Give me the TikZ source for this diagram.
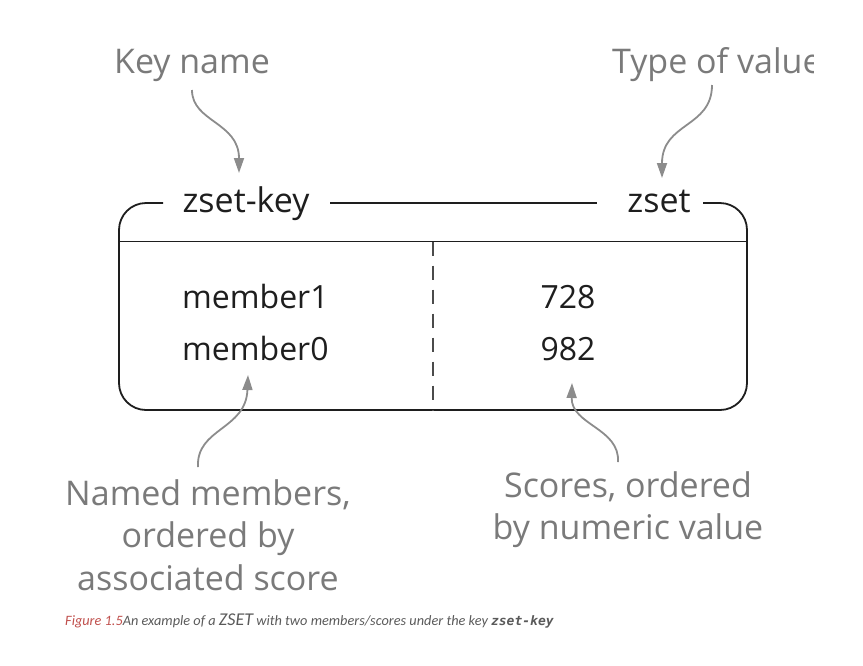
\documentclass[tikz,border=0pt]{standalone}
\usepackage{fontspec}
\setmainfont{Open Sans}
\newfontfamily\capfont{Carlito}
\newfontfamily\capmono{DejaVu Sans Mono}
\usetikzlibrary{arrows.meta}
\definecolor{inkdark}{HTML}{1E1E1E}
\definecolor{labelgray}{HTML}{7A7A7A}
\definecolor{arrowgray}{HTML}{8C8C8C}
\definecolor{figred}{HTML}{C0504D}
\definecolor{capgray}{HTML}{5A5A5A}
\tikzset{
  boxline/.style={draw=inkdark, line width=1.8pt},
  maintext/.style={text=inkdark, font=\fontsize{32}{40}\selectfont, inner sep=0pt, anchor=base},
  headtext/.style={text=inkdark, font=\fontsize{34}{40}\selectfont, inner sep=0pt, anchor=base},
  graylabel/.style={text=labelgray, font=\fontsize{34}{42.5}\selectfont, inner sep=0pt, align=center},
  callout/.style={draw=arrowgray, line width=1.8pt, -{Triangle[length=15pt,width=10pt]}},
}
\begin{document}
\begin{tikzpicture}[x=1pt,y=-1pt]
\useasboundingbox (0,0) rectangle (863,665);
% box
\draw[boxline, rounded corners=27pt] (163,203) -- (119,203) -- (119,410) -- (747,410) -- (747,203) -- (703,203);
\draw[boxline] (330,203) -- (597,203);
\draw[boxline] (119,241.5) -- (747,241.5);
\draw[draw=inkdark!80, line width=1.5pt, dash pattern=on 14pt off 10pt] (433,241.5) -- (433,410);
% header texts
\node[headtext] (zkey) at (246,212) {zset-key};
\node[headtext] (ztype) at (659,212) {zset};
% body
\node[maintext, anchor=base west] (m1) at (182,308) {member1};
\node[maintext, anchor=base west] (m0) at (182,360) {member0};
\node[maintext] (s1) at (568,308) {728};
\node[maintext] (s0) at (568,360) {982};
% top labels
\node[graylabel, anchor=base] (keyname) at (192,73) {Key name};
\begin{scope}
\clip (0,0) rectangle (813,665);
\node[graylabel, anchor=base west] (typeval) at (612,73) {Type of value};
\end{scope}
% bottom labels
\node[graylabel, anchor=north] (named) at (208,479) {Named members,\\ordered by\\associated score};
\node[graylabel, anchor=north] (scores) at (628,471) {Scores, ordered\\by numeric value};
% arrow endpoints
\coordinate (kn0) at (192,90);
\coordinate (kn1) at (239,173);
\coordinate (tv0) at (712,85);
\coordinate (tv1) at (662,178);
\coordinate (nm0) at (198,467);
\coordinate (nm1) at (248,375);
\coordinate (sc0) at (618,462);
\coordinate (sc1) at (572,383);
\draw[callout] (kn0) .. controls (192,122) and (239,122) .. (kn1);
\draw[callout] (tv0) .. controls (712,128) and (662,122) .. (tv1);
\draw[callout] (nm0) .. controls (196,428) and (246,430) .. (nm1);
\draw[callout] (sc0) .. controls (620,428) and (571,425) .. (sc1);
% caption
\node[anchor=base west, inner sep=0pt, text=capgray, font=\capfont\itshape\fontsize{14.3}{16}\selectfont] (caption) at (65,625)
  {{\color{figred}Figure 1.5}An example of a {\fontsize{18}{16}\selectfont ZSET} with two members/scores under the key {\capmono\bfseries\itshape\fontsize{13}{16}\selectfont zset-key}};
\end{tikzpicture}
\end{document}
